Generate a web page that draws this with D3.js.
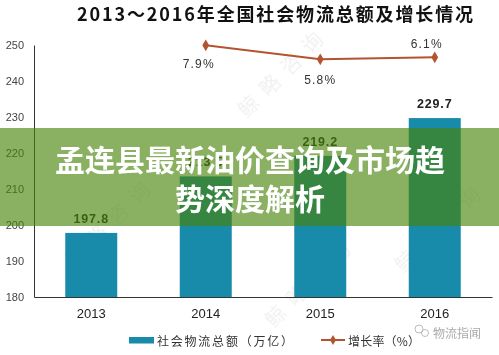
<!DOCTYPE html>
<html><head><meta charset="utf-8">
<script src="https://cdn.jsdelivr.net/npm/d3@7"></script>
<style>
html,body{margin:0;padding:0;background:#fff;}
svg{display:block;}
</style></head>
<body>
<svg id="chart" width="499" height="355"></svg>
<script>
const title = "2013～2016年全国社会物流总额及增长情况";
const years = ["2013", "2014", "2015", "2016"];
const totals = [197.8, 213.5, 219.2, 229.7];
const totalLabels = ["197.8", "213.5", "219.2", "229.7"];
const growthYears = ["2014", "2015", "2016"];
const growth = [7.9, 5.8, 6.1];
const growthLabels = ["7.9%", "5.8%", "6.1%"];
const yTicks = [180, 190, 200, 210, 220, 230, 240, 250];
const legendNames = ["社会物流总额（万亿）", "增长率（%）"];
const bannerLines = ["孟连县最新油价查询及市场趋", "势深度解析"];
const watermark = "鲸略咨询";
const credit = "物流指闻";

const svg = d3.select("#chart");
const W = 499, H = 355;
const barColor = "#178ba9";
const lineColor = "#b4532f";
const fontLatin = "Arial, 'Liberation Sans', 'Noto Sans CJK SC', sans-serif";
const fontCJK = "'Noto Sans CJK SC', sans-serif";

const x = d3.scaleBand().domain(years).range([34, 492]).paddingInner(0.546).paddingOuter(0.273);
const y = d3.scaleLinear().domain([180, 250]).range([297, 45]);
const y2 = d3.scaleLinear().domain([0, 10]).range([98, 31.3]);

// faint watermarks
const wm = svg.append("g").attr("fill", "#000").attr("opacity", 0.06)
  .attr("font-family", fontCJK).attr("font-size", 20).attr("text-anchor", "middle")
  .attr("dominant-baseline", "central");
[[283, 70], [310, 280], [440, 225], [110, 220]].forEach(([cx, cy]) => {
  wm.append("text").attr("transform", `translate(${cx},${cy}) rotate(-45)`)
    .attr("letter-spacing", 10).text(watermark);
});

// title
svg.append("text").attr("x", 77).attr("y", 21)
  .attr("font-family", fontCJK).attr("font-weight", "bold").attr("font-size", 18)
  .attr("fill", "#111").attr("textLength", 396).attr("lengthAdjust", "spacing")
  .text(title);

// bars
svg.append("g").selectAll("rect").data(years).join("rect")
  .attr("x", d => x(d)).attr("width", x.bandwidth())
  .attr("y", (d, i) => y(totals[i])).attr("height", (d, i) => y(180) - y(totals[i]))
  .attr("fill", barColor);

// bar labels
svg.append("g").selectAll("text").data(years).join("text")
  .attr("x", d => x(d) + x.bandwidth() / 2)
  .attr("y", (d, i) => y(totals[i]) - 10)
  .attr("text-anchor", "middle").attr("font-family", fontLatin)
  .attr("font-weight", "bold").attr("font-size", 12.5).attr("fill", "#222")
  .attr("letter-spacing", 0.8)
  .text((d, i) => totalLabels[i]);

// y axis
const yAxis = svg.append("g").attr("transform", "translate(34,0)")
  .call(d3.axisLeft(y).tickValues(yTicks).tickSize(0).tickPadding(10));
yAxis.select(".domain").attr("stroke", "#333").attr("stroke-width", 1);
yAxis.selectAll("text").attr("font-family", fontLatin).attr("font-size", 11).attr("fill", "#444");

// x axis
const xAxis = svg.append("g").attr("transform", "translate(0,297)")
  .call(d3.axisBottom(x).tickSize(0).tickPadding(12));
xAxis.select(".domain").attr("stroke", "#333").attr("stroke-width", 1.2);
xAxis.selectAll("text").attr("font-family", fontLatin).attr("font-size", 13).attr("fill", "#222");

// growth line
const gx = d => x(d) + x.bandwidth() / 2;
const line = d3.line().x((d, i) => gx(growthYears[i])).y(d => y2(d));
svg.append("path").datum(growth).attr("d", line)
  .attr("fill", "none").attr("stroke", lineColor).attr("stroke-width", 2);
svg.append("g").selectAll("path").data(growth).join("path")
  .attr("transform", (d, i) => `translate(${gx(growthYears[i])},${y2(d)})`)
  .attr("d", d3.symbol(d3.symbolDiamond, 40)).attr("fill", lineColor);
const gOff = [[-7, 19], [0, 21], [-8, -13]];
svg.append("g").selectAll("text").data(growth).join("text")
  .attr("x", (d, i) => gx(growthYears[i]) + gOff[i][0])
  .attr("y", (d, i) => y2(d) + gOff[i][1])
  .attr("text-anchor", "middle").attr("dominant-baseline", "central")
  .attr("font-family", fontLatin).attr("font-size", 12).attr("fill", "#333")
  .attr("letter-spacing", 1.2)
  .text((d, i) => growthLabels[i]);

// legend
const lg = svg.append("g");
lg.append("rect").attr("x", 129).attr("y", 337).attr("width", 25).attr("height", 6.5).attr("fill", barColor);
lg.append("text").attr("x", 157).attr("y", 340).attr("dominant-baseline", "central")
  .attr("font-family", fontCJK).attr("font-size", 12).attr("fill", "#333")
  .attr("textLength", 136).attr("lengthAdjust", "spacing").text(legendNames[0]);
lg.append("line").attr("x1", 321).attr("x2", 345).attr("y1", 340).attr("y2", 340)
  .attr("stroke", lineColor).attr("stroke-width", 2);
lg.append("path").attr("transform", "translate(333,340)")
  .attr("d", d3.symbol(d3.symbolDiamond, 30)).attr("fill", lineColor);
lg.append("text").attr("x", 348).attr("y", 340).attr("dominant-baseline", "central")
  .attr("font-family", fontCJK).attr("font-size", 12).attr("fill", "#333")
  .attr("textLength", 72).attr("lengthAdjust", "spacing").text(legendNames[1]);

// credit
svg.append("text").attr("x", 433).attr("y", 332).attr("dominant-baseline", "central")
  .attr("font-family", fontCJK).attr("font-size", 12).attr("fill", "#aaa")
  .text(credit);
svg.append("circle").attr("cx", 419).attr("cy", 329).attr("r", 4).attr("fill", "none").attr("stroke", "#bbb").attr("stroke-width", 1);
svg.append("circle").attr("cx", 425).attr("cy", 333).attr("r", 3.5).attr("fill", "none").attr("stroke", "#bbb").attr("stroke-width", 1);

// banner
svg.append("rect").attr("x", 0).attr("y", 128).attr("width", W).attr("height", 98)
  .attr("fill", "rgb(72,131,8)").attr("fill-opacity", 0.64);
svg.append("g").selectAll("text").data(bannerLines).join("text")
  .attr("x", 250).attr("y", (d, i) => 158 + i * 39)
  .attr("text-anchor", "middle").attr("dominant-baseline", "central")
  .attr("font-family", fontCJK).attr("font-weight", "bold").attr("font-size", 30)
  .attr("fill", "#fff").text(d => d);
</script>
</body></html>
